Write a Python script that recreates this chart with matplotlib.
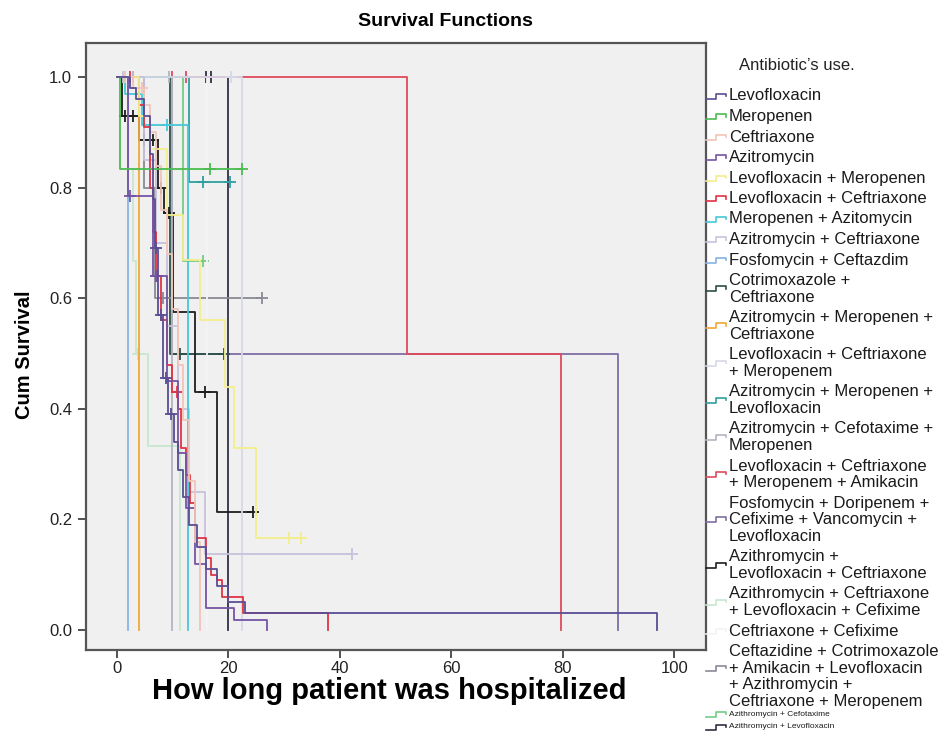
import numpy as np
import matplotlib.pyplot as plt
from matplotlib.lines import Line2D

plt.rcParams['font.family'] = ['Liberation Sans', 'DejaVu Sans']

# legend labels and group colours (SPSS order)
labels = [
    "Levofloxacin",
    "Meropenen",
    "Ceftriaxone",
    "Azitromycin",
    "Levofloxacin + Meropenen",
    "Levofloxacin + Ceftriaxone",
    "Meropenen + Azitomycin",
    "Azitromycin + Ceftriaxone",
    "Fosfomycin + Ceftazdim",
    "Cotrimoxazole +\nCeftriaxone",
    "Azitromycin + Meropenen +\nCeftriaxone",
    "Levofloxacin + Ceftriaxone\n+ Meropenem",
    "Azitromycin + Meropenen +\nLevofloxacin",
    "Azitromycin + Cefotaxime +\nMeropenen",
    "Levofloxacin + Ceftriaxone\n+ Meropenem + Amikacin",
    "Fosfomycin + Doripenem +\nCefixime + Vancomycin +\nLevofloxacin",
    "Azithromycin +\nLevofloxacin + Ceftriaxone",
    "Azithromycin + Ceftriaxone\n+ Levofloxacin + Cefixime",
    "Ceftriaxone + Cefixime",
    "Ceftazidine + Cotrimoxazole\n+ Amikacin + Levofloxacin\n+ Azithromycin +\nCeftriaxone + Meropenem",
    "Azithromycin + Cefotaxime",
    "Azithromycin + Levofloxacin",
]
colors = ["#5a4e94", "#4cbc50", "#f2c4b8", "#7454a4", "#f2ee8c", "#e03442",
          "#48c8d8", "#c8c2dc", "#88b4e4", "#2c5048", "#f0a838", "#d6d8e8",
          "#30a0a0", "#b4b4c0", "#e04a5c", "#7e6ea4", "#1e1e1e", "#c6e8ce",
          "#f4f4f4", "#8a8a96", "#74cc84", "#303044"]

# event times, survival after each event, censored times (days)
t_levo = [2.5, 3.5, 5, 6, 6.5, 6.9, 7.5, 8.4, 9.2, 10.3, 11, 12, 13, 14.5, 16, 18, 20, 23, 97]
s_levo = [0.98, 0.96, 0.93, 0.86, 0.78, 0.69, 0.57, 0.455, 0.39, 0.34, 0.29, 0.24, 0.19, 0.15, 0.11, 0.08, 0.05, 0.03, 0.0]
c_levo = [7.1, 7.9, 8.8, 9.7]

t_mero = [0.7]
s_mero = [0.833]
c_mero = [16.8, 22.5]

t_ceft = [3, 5, 6, 7, 8, 9, 10, 11, 12, 13, 14, 15]
s_ceft = [0.98, 0.95, 0.90, 0.84, 0.76, 0.68, 0.58, 0.48, 0.38, 0.27, 0.16, 0.0]
c_ceft = [1.5, 4.5]

t_azit = [2, 6.5, 9, 11, 12.5, 14, 16, 21, 27]
s_azit = [0.785, 0.64, 0.45, 0.32, 0.22, 0.12, 0.04, 0.018, 0.0]
c_azit = [2.4, 7]

t_levo_mero = [4, 6, 9, 12, 15, 19.5, 21, 25]
s_levo_mero = [0.93, 0.87, 0.75, 0.67, 0.56, 0.44, 0.33, 0.167]
c_levo_mero = [31, 33]

t_levo_ceft = [4, 5, 6, 6.5, 7, 8, 9, 10, 11, 11.5, 12.5, 13.2, 14, 16, 17, 18, 19, 22.7, 38]
s_levo_ceft = [0.95, 0.91, 0.80, 0.72, 0.64, 0.56, 0.48, 0.43, 0.40, 0.33, 0.28, 0.23, 0.166,
               0.13, 0.10, 0.09, 0.06, 0.03, 0.0]
c_levo_ceft = [2.5, 7.2, 10.8]

t_mero_azit = [1.5, 4.5, 12.9]
s_mero_azit = [0.97, 0.913, 0.0]
c_mero_azit = [9]

t_azit_ceft = [5, 7, 9, 11, 13, 15.9]
s_azit_ceft = [0.85, 0.70, 0.55, 0.40, 0.25, 0.138]
c_azit_ceft = [1.2, 42.2]

t_fosfo = [2.0]
s_fosfo = [0.0]
c_fosfo = []

t_cotri = [9.6]
s_cotri = [0.5]
c_cotri = [11.4, 19.2]

t_azit_mero_ceft = [4.0]
s_azit_mero_ceft = [0.0]
c_azit_mero_ceft = []

t_levo_ceft_mero = [22.5]
s_levo_ceft_mero = [0.0]
c_levo_ceft_mero = [20.5]

t_azit_mero_levo = [13]
s_azit_mero_levo = [0.81]
c_azit_mero_levo = [15.5, 20.4]

t_azit_cefo_mero = [10]
s_azit_cefo_mero = [0.0]
c_azit_cefo_mero = [3, 9.5]

t_four = [52, 79.7]
s_four = [0.5, 0.0]
c_four = [10, 12.5]

t_fosfo_dori = [10, 90]
s_fosfo_dori = [0.5, 0.0]
c_fosfo_dori = []

t_azith_levo_ceft = [1, 4, 7.5, 8.5, 10.2, 14.1, 18]
s_azith_levo_ceft = [0.93, 0.886, 0.80, 0.754, 0.575, 0.43, 0.214]
c_azith_levo_ceft = [1.5, 3, 5, 6.5, 8, 9.5, 15.9, 24.5]

t_azith_ceft_levo_cefi = [2, 3, 3.5, 5.6, 11.4]
s_azith_ceft_levo_cefi = [0.833, 0.667, 0.5, 0.333, 0.0]
c_azith_ceft_levo_cefi = [3.9]

t_ceft_cefi = [16.2]
s_ceft_cefi = [0.0]
c_ceft_cefi = []

t_cefta = [5, 6.9]
s_cefta = [0.8, 0.6]
c_cefta = [8.3, 26]

t_azith_cefo = [12]
s_azith_cefo = [0.667]
c_azith_cefo = [15.5]

t_azith_levo = [20]
s_azith_levo = [0.0]
c_azith_levo = [16, 17]

times = [t_levo, t_mero, t_ceft, t_azit, t_levo_mero, t_levo_ceft, t_mero_azit, t_azit_ceft,
         t_fosfo, t_cotri, t_azit_mero_ceft, t_levo_ceft_mero, t_azit_mero_levo, t_azit_cefo_mero,
         t_four, t_fosfo_dori, t_azith_levo_ceft, t_azith_ceft_levo_cefi, t_ceft_cefi, t_cefta,
         t_azith_cefo, t_azith_levo]
survs = [s_levo, s_mero, s_ceft, s_azit, s_levo_mero, s_levo_ceft, s_mero_azit, s_azit_ceft,
         s_fosfo, s_cotri, s_azit_mero_ceft, s_levo_ceft_mero, s_azit_mero_levo, s_azit_cefo_mero,
         s_four, s_fosfo_dori, s_azith_levo_ceft, s_azith_ceft_levo_cefi, s_ceft_cefi, s_cefta,
         s_azith_cefo, s_azith_levo]
cens = [c_levo, c_mero, c_ceft, c_azit, c_levo_mero, c_levo_ceft, c_mero_azit, c_azit_ceft,
        c_fosfo, c_cotri, c_azit_mero_ceft, c_levo_ceft_mero, c_azit_mero_levo, c_azit_cefo_mero,
        c_four, c_fosfo_dori, c_azith_levo_ceft, c_azith_ceft_levo_cefi, c_ceft_cefi, c_cefta,
        c_azith_cefo, c_azith_levo]

W, H = 942, 738
fig = plt.figure(figsize=(W / 100, H / 100), dpi=100)
fig.patch.set_facecolor("white")
ax = fig.add_axes([86 / W, 1 - 650 / H, (706 - 86) / W, (650 - 43) / H])
ax.set_facecolor("#f0f0f0")


def km(t, s, c, color):
    t = np.asarray(t, float)
    s = np.asarray(s, float)
    end = max(t.max(), max(c) if c else 0)
    x = np.concatenate([[0], t, [end]])
    y = np.concatenate([[1], s, [s[-1]]])
    ax.step(x, y, where="post", color=color, lw=1.3)
    if c:
        idx = np.searchsorted(t, c, side="right")
        sc = np.concatenate([[1], s])[idx]
        ax.plot(c, sc, "+", color=color, ms=9, mew=1.3)


# dark long-lived groups underneath, then the rest from last to first
order = [21, 15, 9] + [i for i in range(20, -1, -1) if i not in (15, 9)]
for i in order:
    km(times[i], survs[i], cens[i], colors[i])

ax.set_xlim(-5.47, 105.7)
ax.set_ylim(-0.036, 1.0615)
ax.set_xticks([0, 20, 40, 60, 80, 100])
ax.set_yticks([0.0, 0.2, 0.4, 0.6, 0.8, 1.0])
ax.set_yticklabels(["%.1f" % v for v in [0.0, 0.2, 0.4, 0.6, 0.8, 1.0]])
ax.tick_params(direction="out", length=6, width=1.3, color="#444444",
               labelsize=12, labelcolor="#222222")
ax.tick_params(axis="x", pad=2)
ax.tick_params(axis="y", pad=4)
for sp in ax.spines.values():
    sp.set_color("#555555")
    sp.set_linewidth(1.6)

fig.text(445 / W, 1 - 22 / H, "Survival Functions", ha="center", va="center",
         fontsize=14, fontweight="bold")
fig.text(25 / W, 1 - 355 / H, "Cum Survival", ha="center", va="center",
         rotation=90, fontsize=14.5, fontweight="bold")
fig.text(389 / W, 1 - 691 / H, "How long patient was hospitalized", ha="center",
         va="center", fontsize=21, fontweight="bold")

# legend drawn in pixel coordinates
lg = fig.add_axes([0, 0, 1, 1], facecolor="none")
lg.set_xlim(0, W)
lg.set_ylim(H, 0)
lg.axis("off")
lg.text(797, 65, "Antibiotic\u2019s use.", ha="center", va="center", fontsize=12,
        color="#222222")
y = 96
lp = 16.6
for i, (lab, col) in enumerate(zip(labels, colors)):
    n = lab.count("\n") + 1
    small = i >= 20
    if i == 20:
        y = 714
    yc = y + min(n - 1, 2) * lp / 2
    lg.add_line(Line2D([706, 716, 716, 726, 726], [yc + 2.5, yc + 2.5, yc - 2.5, yc - 2.5, yc],
                       color=col, lw=1.2))
    for k, line in enumerate(lab.split("\n")):
        lg.text(729, y + k * lp, line, ha="left", va="center",
                fontsize=6 if small else 12, color="#1a1a1a")
    y += (13 if small else n * lp + 3.9)

fig.savefig("out.png", dpi=100)
